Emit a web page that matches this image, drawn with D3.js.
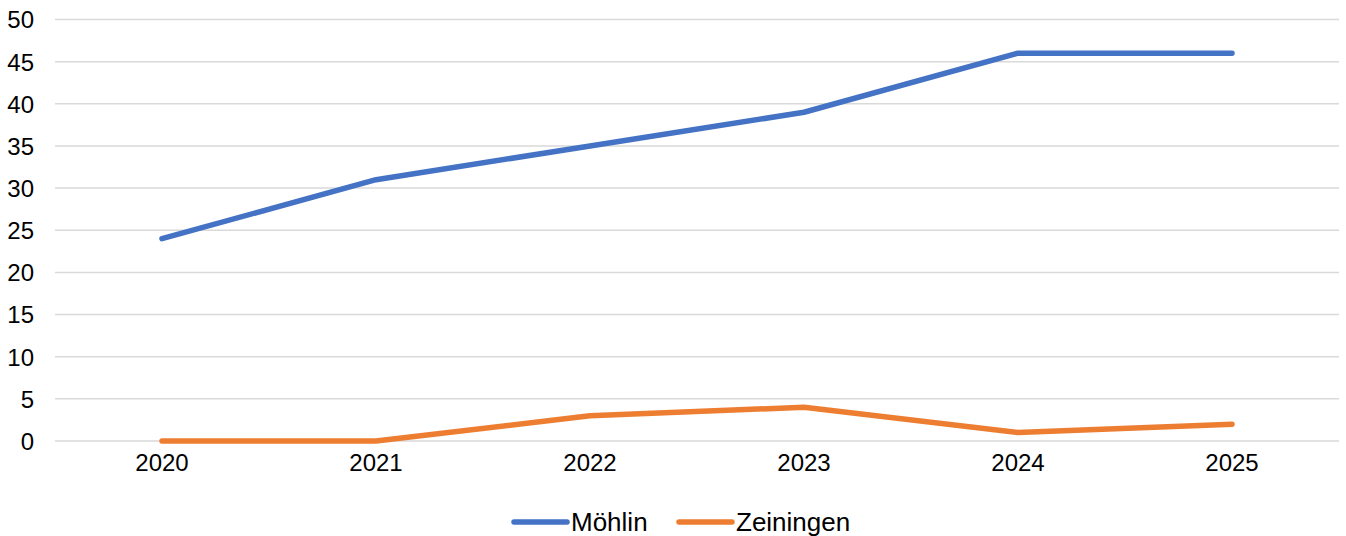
<!DOCTYPE html>
<html>
<head>
<meta charset="utf-8">
<script src="https://cdn.jsdelivr.net/npm/d3@7"></script>
<style>
  body { margin: 0; background: #fff; }
  text { font-family: "Liberation Sans", Arial, sans-serif; fill: #000; }
</style>
</head>
<body>
<div id="chart"></div>
<script>
const years = ['2020', '2021', '2022', '2023', '2024', '2025']
const moehlin = [24, 31, 35, 39, 46, 46]
const zeiningen = [0, 0, 3, 4, 1, 2]
const yTicks = [0, 5, 10, 15, 20, 25, 30, 35, 40, 45, 50]

const series = [
	{ name: 'Möhlin', values: moehlin, color: '#4472C4' },
	{ name: 'Zeiningen', values: zeiningen, color: '#ED7D31' }
]

const width = 1346
const height = 536
const plotLeft = 55, plotRight = 1339, plotTop = 19.5, plotBottom = 441

const svg =
	d3.select('#chart')
		.append('svg')
		.attr('width', width)
		.attr('height', height)

const x = d3.scaleBand().domain(years).range([plotLeft, plotRight])
const y = d3.scaleLinear().domain([0, 50]).range([plotBottom, plotTop])

// gridlines
svg.append('g')
	.selectAll('line')
	.data(yTicks)
	.enter()
	.append('line')
	.attr('x1', plotLeft)
	.attr('x2', plotRight)
	.attr('y1', d => y(d))
	.attr('y2', d => y(d))
	.attr('stroke', '#d9d9d9')
	.attr('stroke-width', 1.5)

// y axis labels
const yAxis = svg.append('g')
	.attr('transform', `translate(${plotLeft - 21},0)`)
	.call(d3.axisLeft(y).tickValues(yTicks).tickSize(0).tickPadding(0))
yAxis.select('.domain').remove()
yAxis.selectAll('text')
	.style('font-size', '24px')
	.attr('dy', '0.35em')

// x axis labels
const xAxis = svg.append('g')
	.attr('transform', `translate(0,${plotBottom})`)
	.call(d3.axisBottom(x).tickSize(0).tickPadding(13))
xAxis.select('.domain').remove()
xAxis.selectAll('text')
	.style('font-size', '24px')

// lines
const line = d3.line()
	.x((d, i) => x(years[i]) + x.bandwidth() / 2)
	.y(d => y(d))

svg.append('g')
	.selectAll('path')
	.data(series)
	.enter()
	.append('path')
	.attr('d', d => line(d.values))
	.attr('fill', 'none')
	.attr('stroke', d => d.color)
	.attr('stroke-width', 5.5)
	.attr('stroke-linecap', 'round')
	.attr('stroke-linejoin', 'round')

// legend
const legendX = [514, 679]
const legend = svg.append('g')
	.selectAll('g')
	.data(series)
	.enter()
	.append('g')
	.attr('transform', (d, i) => `translate(${legendX[i]},522)`)

legend.append('line')
	.attr('x1', 0)
	.attr('x2', 53)
	.attr('stroke', d => d.color)
	.attr('stroke-width', 5.5)
	.attr('stroke-linecap', 'round')

legend.append('text')
	.attr('x', 57)
	.attr('dy', '0.36em')
	.style('font-size', '26px')
	.text(d => d.name)
</script>
</body>
</html>
